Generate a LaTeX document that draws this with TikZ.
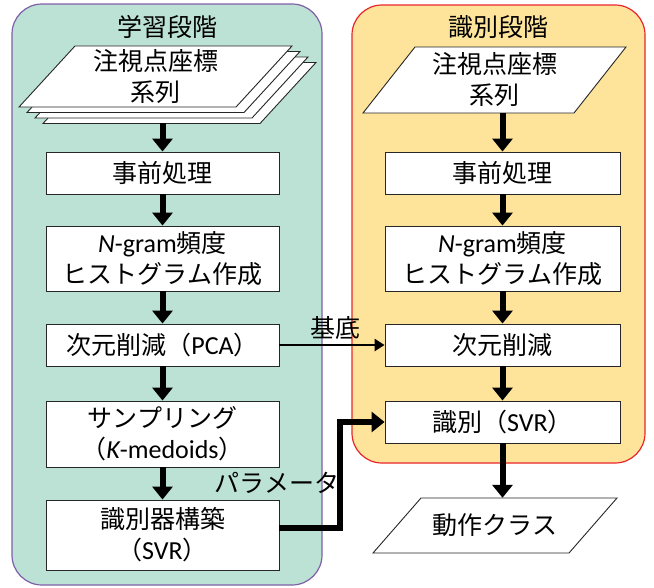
\documentclass[tikz,border=0pt]{standalone}
\usepackage{fontspec}
\setmainfont{Noto Sans CJK JP}
\newfontfamily\la{Carlito}
\newcommand\lat[1]{{\la\fontsize{26}{31}\selectfont #1}}
\newcommand\lati[1]{{\la\itshape\fontsize{26}{31}\selectfont #1}}
\usetikzlibrary{arrows.meta}
\definecolor{mint}{HTML}{BCE2D5}
\definecolor{purp}{HTML}{7F5FA8}
\definecolor{yel}{HTML}{FDE49A}
\definecolor{redb}{HTML}{E8262A}
\begin{document}
\begin{tikzpicture}[x=1pt,y=-1pt,
  every node/.style={font=\fontsize{25}{31}\selectfont, align=center, inner sep=0pt},
  panelL/.style={draw=purp, line width=1.2pt, fill=mint, rounded corners=30pt},
  panelR/.style={draw=redb, line width=1.2pt, fill=yel, rounded corners=30pt},
  box/.style={draw=black!85, line width=0.9pt, fill=white, minimum width=233pt},
  paraform/.style={draw=black!85, line width=0.9pt, fill=white},
  thickarrow/.style={line width=6pt, -{Triangle[width=20pt,length=13pt]}},
  thinarrow/.style={line width=2.5pt, -{Triangle[width=12pt,length=10pt]}},
  paramarrow/.style={line width=6.5pt, line join=miter, -{Triangle[width=20pt,length=13pt]}}
]
\useasboundingbox (0,0) rectangle (654,587);
% panels
\draw[panelL] (12,4) rectangle (322,585);
\draw[panelR] (352,5) rectangle (645,463);
\node (tL) at (167,27) {学習段階};
\node (tR) at (498,27) {識別段階};
% left stacked input
\foreach \k in {3,2,1}{
  \draw[paraform, shift={(8*\k,5.5*\k)}] (75,46) -- (292,46) -- (236,107) -- (19,107) -- cycle;
}
\draw[paraform] (75,46) -- (292,46) -- (236,107) -- (19,107) -- cycle;
\node[minimum width=217pt, minimum height=61pt] (inL) at (155.5,76.5) {注視点座標\\系列};
\coordinate (stackbot) at (162.5,123);
% right input
\draw[paraform] (415,47) -- (626,47) -- (574,113) -- (363,113) -- cycle;
\node[minimum width=211pt, minimum height=66pt] (inR) at (494.5,80) {注視点座標\\系列};
% output
\draw[paraform] (421,498) -- (617,498) -- (569,553) -- (373,553) -- cycle;
\node[minimum width=196pt, minimum height=55pt] (outR) at (495,525.5) {動作クラス};
% left boxes
\node[box, minimum height=42pt] (preL) at (162.5,173) {事前処理};
\node[box, minimum height=65pt] (ngL) at (162.5,258.5) {\lati{N}\lat{-gram}頻度\\ヒストグラム作成};
\node[box, minimum height=42pt] (pcaL) at (162.5,345) {次元削減（\lat{PCA}）};
\node[box, minimum height=66pt] (sampL) at (162.5,434) {サンプリング\\（\lati{K}\lat{-medoids}）};
\node[box, minimum height=70pt] (buildL) at (162.5,535) {識別器構築\\（\lat{SVR}）};
% right boxes
\node[box, minimum width=235pt, minimum height=42pt] (preR) at (502.5,173) {事前処理};
\node[box, minimum width=235pt, minimum height=65pt] (ngR) at (502.5,258.5) {\lati{N}\lat{-gram}頻度\\ヒストグラム作成};
\node[box, minimum width=235pt, minimum height=42pt] (dimR) at (502.5,345) {次元削減};
\node[box, minimum width=235pt, minimum height=42pt] (svrR) at (502.5,422) {識別（\lat{SVR}）};
% left arrows
\draw[thickarrow] (stackbot) -- (preL.north);
\draw[thickarrow] (preL) -- (ngL);
\draw[thickarrow] (ngL) -- (pcaL);
\draw[thickarrow] (pcaL) -- (sampL);
\draw[thickarrow] (sampL) -- (buildL);
% right arrows
\draw[thickarrow] (inR.south -| preR.north) -- (preR.north);
\draw[thickarrow] (preR) -- (ngR);
\draw[thickarrow] (ngR) -- (dimR);
\draw[thickarrow] (dimR) -- (svrR);
\draw[thickarrow] (svrR.south) -- (svrR.south |- outR.north);
% cross arrows
\draw[thinarrow] (pcaL.east) -- (dimR.west);
\node (lbase) at (335,328) {基底};
\coordinate (bend) at (340,528);
\draw[paramarrow] ([yshift=7pt]buildL.east) -- (bend) |- (svrR.west);
\node (lparam) at (277,483) {パラメータ};
\end{tikzpicture}
\end{document}
